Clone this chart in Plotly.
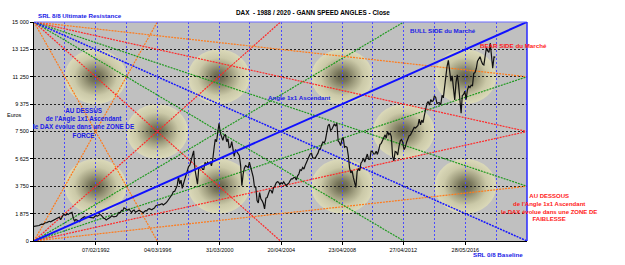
import base64
import pandas as pd
import plotly.graph_objects as go

# ---------------- data ----------------
box_start = "1988-01-14"
box_end = "2020-06-16"
grid_count = 16
y_max = 15000

y_ticks = [0, 1875, 3750, 5625, 7500, 9375, 11250, 13125, 15000]
y_ticktext = ["0", "1 875", "3 750", "5 625", "7 500", "9 375", "11 250", "13 125", "15 000"]

x_tick_dates = ["1992-02-07", "1996-03-04", "2000-03-31", "2004-04-20",
                "2008-04-23", "2012-04-27", "2016-05-28"]
x_tick_text = ["07/02/1992", "04/03/1996", "31/03/2000", "20/04/2004",
               "23/04/2008", "27/04/2012", "28/05/2016"]

fan_fractions = [0.25, 0.5, 0.75]
fan_colors = ["#FF7A1A", "#FF2A2A", "#1F9A1F"]

zone_grid_x = [2, 6, 10, 14, 4, 12, 2, 6, 10, 14]
zone_levels = [11250, 11250, 11250, 11250, 7500, 7500, 3750, 3750, 3750, 3750]

dax_first_month = "1988-01-01"
dax_close = [
    # 1988
    1000, 1010, 1000, 1040, 1060, 1110, 1160, 1140, 1210, 1250, 1260, 1328,
    # 1989
    1350, 1320, 1370, 1410, 1430, 1480, 1540, 1600, 1640, 1460, 1620, 1790,
    # 1990
    1820, 1760, 1850, 1810, 1890, 1930, 1966, 1560, 1380, 1470, 1440, 1398,
    # 1991
    1330, 1500, 1580, 1620, 1660, 1600, 1640, 1630, 1610, 1570, 1590, 1578,
    # 1992
    1690, 1730, 1700, 1750, 1810, 1770, 1640, 1560, 1520, 1440, 1500, 1545,
    # 1993
    1600, 1700, 1710, 1650, 1660, 1690, 1810, 1950, 1930, 2100, 2080, 2267,
    # 1994
    2230, 2120, 2100, 2180, 2060, 1950, 2080, 2120, 1970, 2030, 2060, 2107,
    # 1995
    2040, 2010, 1920, 2000, 2080, 2060, 2180, 2210, 2150, 2140, 2210, 2254,
    # 1996
    2400, 2450, 2480, 2480, 2520, 2550, 2470, 2510, 2600, 2690, 2810, 2889,
    # 1997
    3010, 3200, 3390, 3400, 3600, 3800, 4400, 3900, 4170, 3600, 3950, 4250,
    # 1998
    4400, 4800, 5100, 5200, 5600, 5900, 6171, 4900, 4400, 3896, 5000, 5002,
    # 1999
    5100, 4900, 4900, 5390, 5200, 5400, 5300, 5400, 5150, 5550, 6300, 6958,
    # 2000
    6800, 7640, 8065, 7400, 7100, 6900, 7200, 7300, 6800, 7000, 6400, 6434,
    # 2001
    6800, 6200, 5800, 6260, 6100, 6000, 5860, 5200, 3787, 4560, 5000, 5160,
    # 2002
    5100, 5040, 5400, 5040, 4800, 4380, 3700, 3700, 2770, 2600, 3320, 2893,
    # 2003
    2750, 2550, 2203, 2940, 2980, 3220, 3490, 3480, 3260, 3650, 3750, 3965,
    # 2004
    4060, 4020, 3860, 3990, 3920, 4050, 3900, 3790, 3890, 3960, 4130, 4256,
    # 2005
    4250, 4350, 4350, 4180, 4460, 4590, 4880, 4830, 5040, 4930, 5190, 5408,
    # 2006
    5670, 5800, 5970, 6010, 5690, 5680, 5680, 5860, 6000, 6270, 6310, 6597,
    # 2007
    6790, 6710, 6920, 7410, 7880, 8010, 7580, 7640, 7860, 8020, 7870, 8067,
    # 2008
    6850, 6750, 6530, 6950, 7100, 6420, 6480, 6420, 5830, 4990, 4670, 4810,
    # 2009
    4340, 3840, 3666, 4770, 4940, 4810, 5330, 5460, 5680, 5410, 5630, 5957,
    # 2010
    5610, 5600, 6150, 6140, 5960, 5970, 6150, 5930, 6230, 6600, 6690, 6914,
    # 2011
    7080, 7270, 7040, 7510, 7290, 7380, 7160, 5780, 5500, 6140, 6090, 5898,
    # 2012
    6460, 6860, 6950, 6760, 6260, 6420, 6770, 6970, 7220, 7260, 7410, 7612,
    # 2013
    7780, 7740, 7800, 7910, 8350, 7960, 8280, 8100, 8590, 9030, 9410, 9552,
    # 2014
    9310, 9690, 9560, 9600, 9940, 9830, 9410, 9470, 9470, 9330, 9980, 9806,
    # 2015
    10690, 11400, 11966, 12374, 11410, 10940, 11310, 10260, 9660, 10850, 11380, 10743,
    # 2016
    9800, 8752, 9970, 10040, 10260, 9680, 10340, 10590, 10510, 10670, 10640, 11481,
    # 2017
    11540, 11830, 12310, 12440, 12620, 12330, 12120, 12060, 12830, 13230, 13020, 12918,
    # 2018
    13560, 12440, 11830, 12610, 12600,
]

# ---------------- helpers ----------------
t0 = pd.Timestamp(box_start)
t1 = pd.Timestamp(box_end)
span = t1 - t0


def date_at(frac):
    return t0 + span * frac


PLOT_L, PLOT_R, PLOT_T, PLOT_B = 31, 527, 22, 244


def pxx(xp):
    return (xp - PLOT_L) / (PLOT_R - PLOT_L)


def pyy(yp):
    return (PLOT_B - yp) / (PLOT_B - PLOT_T)


FONT = "Liberation Sans, Arial, sans-serif"
BLUE_TXT = "#1a1ae6"
RED_TXT = "#ff1a1a"

fig = go.Figure()

dotdash = "2px,1px"

# bottom-left fan
for f, c in zip(fan_fractions, fan_colors):
    fig.add_trace(go.Scatter(x=[t0, t1], y=[0, f * y_max], mode="lines",
                             line=dict(color=c, width=1.2, dash=dotdash)))
    fig.add_trace(go.Scatter(x=[t0, date_at(f)], y=[0, y_max], mode="lines",
                             line=dict(color=c, width=1.2, dash=dotdash)))
# top-left fan
for f, c in zip(fan_fractions, fan_colors):
    fig.add_trace(go.Scatter(x=[t0, t1], y=[y_max, (1 - f) * y_max], mode="lines",
                             line=dict(color=c, width=1.2, dash=dotdash)))
    fig.add_trace(go.Scatter(x=[t0, date_at(f)], y=[y_max, 0], mode="lines",
                             line=dict(color=c, width=1.2, dash=dotdash)))
# descending 1x1 diagonal
fig.add_trace(go.Scatter(x=[t0, t1], y=[y_max, 0], mode="lines",
                         line=dict(color="#1515ff", width=1.5, dash="2px,1px")))

# DAX close
dax_dates = pd.date_range(dax_first_month, periods=len(dax_close), freq="MS") + pd.Timedelta(days=14)
fig.add_trace(go.Scatter(x=dax_dates, y=dax_close, mode="lines",
                         line=dict(color="#111111", width=1.2)))

# ascending 1x1 diagonal
fig.add_trace(go.Scatter(x=[t0, t1], y=[0, y_max], mode="lines",
                         line=dict(color="#1010ff", width=2)))

# shaded zones (radial gradient ellipses)
svg = (
    '<svg xmlns="http://www.w3.org/2000/svg" width="200" height="200" viewBox="0 0 200 200" '
    'preserveAspectRatio="none"><defs><radialGradient id="g" cx="50%" cy="50%" r="50%">'
    '<stop offset="0" stop-color="#62604a"/>'
    '<stop offset="0.2" stop-color="#79775c"/>'
    '<stop offset="0.45" stop-color="#a4a283"/>'
    '<stop offset="0.7" stop-color="#cbc9a8"/>'
    '<stop offset="1" stop-color="#dbd9b9"/>'
    '</radialGradient></defs>'
    '<ellipse cx="100" cy="100" rx="100" ry="100" fill="url(#g)"/></svg>'
)
svg_uri = "data:image/svg+xml;base64," + base64.b64encode(svg.encode()).decode()
images = []
rx_paper = 1.0 / grid_count
ry_paper = 1875.0 / y_max
for gx, lvl in zip(zone_grid_x, zone_levels):
    cx = gx / grid_count
    cy = lvl / y_max
    images.append(dict(source=svg_uri, xref="paper", yref="paper",
                       x=cx - rx_paper, y=cy + ry_paper,
                       sizex=2 * rx_paper, sizey=2 * ry_paper,
                       xanchor="left", yanchor="top", sizing="stretch",
                       layer="below", opacity=1))

grid_dates = [date_at(k / grid_count) for k in range(1, grid_count, 2)]

annotations = [
    dict(text="<b>DAX  - 1988 / 2020 - GANN SPEED ANGLES - Close</b>", x=pxx(312), y=pyy(12),
         xanchor="center", yanchor="middle", font=dict(size=6.4, color="#000000")),
    dict(text="<b>SRL 8/8 Ultimate Resistance</b>", x=pxx(33), y=pyy(15),
         xanchor="left", yanchor="middle", font=dict(size=6.2, color=BLUE_TXT)),
    dict(text="<b>BULL SIDE du Marché</b>", x=pxx(407), y=pyy(31),
         xanchor="left", yanchor="middle", font=dict(size=6.2, color=BLUE_TXT)),
    dict(text="<b>BEAR SIDE du Marché</b>", x=pxx(478), y=pyy(46),
         xanchor="left", yanchor="middle", font=dict(size=6.2, color=RED_TXT)),
    dict(text="<b>Angle 1x1 Ascendant</b>", x=pxx(298), y=pyy(99),
         xanchor="center", yanchor="middle", font=dict(size=6.2, color=BLUE_TXT)),
    dict(text="<b>AU DESSUS<br>de l'Angle 1x1 Ascendant<br>le DAX évolue dans une ZONE DE<br>FORCE</b>",
         x=pxx(81), y=pyy(124), xanchor="center", yanchor="middle", align="center",
         font=dict(size=6.3, color=BLUE_TXT)),
    dict(text="<b>AU DESSOUS<br>de l'Angle 1x1 Ascendant<br>le DAX évolue dans une ZONE DE<br>FAIBLESSE</b>",
         x=pxx(549), y=pyy(210), xanchor="center", yanchor="middle", align="center",
         font=dict(size=6.0, color=RED_TXT)),
    dict(text="<b>SRL 0/8 Baseline</b>", x=pxx(498), y=pyy(258),
         xanchor="center", yanchor="middle", font=dict(size=6.2, color=BLUE_TXT)),
    dict(text="Euros", x=pxx(2), y=pyy(116), xanchor="left", yanchor="middle",
         font=dict(size=5.5, color="#000000")),
]
for a in annotations:
    a.update(xref="paper", yref="paper", showarrow=False)

shapes = [
    dict(type="line", xref="paper", yref="paper", x0=0, x1=1, y0=1, y1=1,
         line=dict(color="#6a6aff", width=1.2)),
    dict(type="line", xref="paper", yref="paper", x0=1, x1=1, y0=0, y1=1,
         line=dict(color="#2a2aff", width=1.5)),
]

fig.update_layout(
    width=625, height=265,
    margin=dict(l=PLOT_L, r=625 - PLOT_R, t=PLOT_T, b=265 - PLOT_B, pad=0),
    paper_bgcolor="#ffffff", plot_bgcolor="#c0c0c0",
    showlegend=False, hovermode=False,
    font=dict(family=FONT, size=5.5, color="#000000"),
    images=images, annotations=annotations, shapes=shapes,
    xaxis=dict(type="date", range=[t0, t1], tickmode="array",
               tickvals=x_tick_dates, ticktext=x_tick_text,
               tickfont=dict(size=5.5), ticks="outside", ticklen=3, tickcolor="#000",
               showgrid=True, gridcolor="#4a4aff", griddash="2px,2px", gridwidth=1,
               minor=dict(tickmode="array", tickvals=grid_dates, showgrid=True,
                          gridcolor="#4a4aff", griddash="2px,2px", gridwidth=1, ticks=""),
               showline=True, linecolor="#000000", linewidth=1, zeroline=False,
               fixedrange=True),
    yaxis=dict(range=[0, y_max], tickmode="array", tickvals=y_ticks, ticktext=y_ticktext,
               tickfont=dict(size=5.5), ticks="outside", ticklen=3, tickcolor="#000",
               showgrid=True, gridcolor="#222222", griddash="2px,2px", gridwidth=1,
               showline=True, linecolor="#000000", linewidth=1, zeroline=False,
               fixedrange=True),
)

fig.write_html("out.html", config={"displayModeBar": False})
